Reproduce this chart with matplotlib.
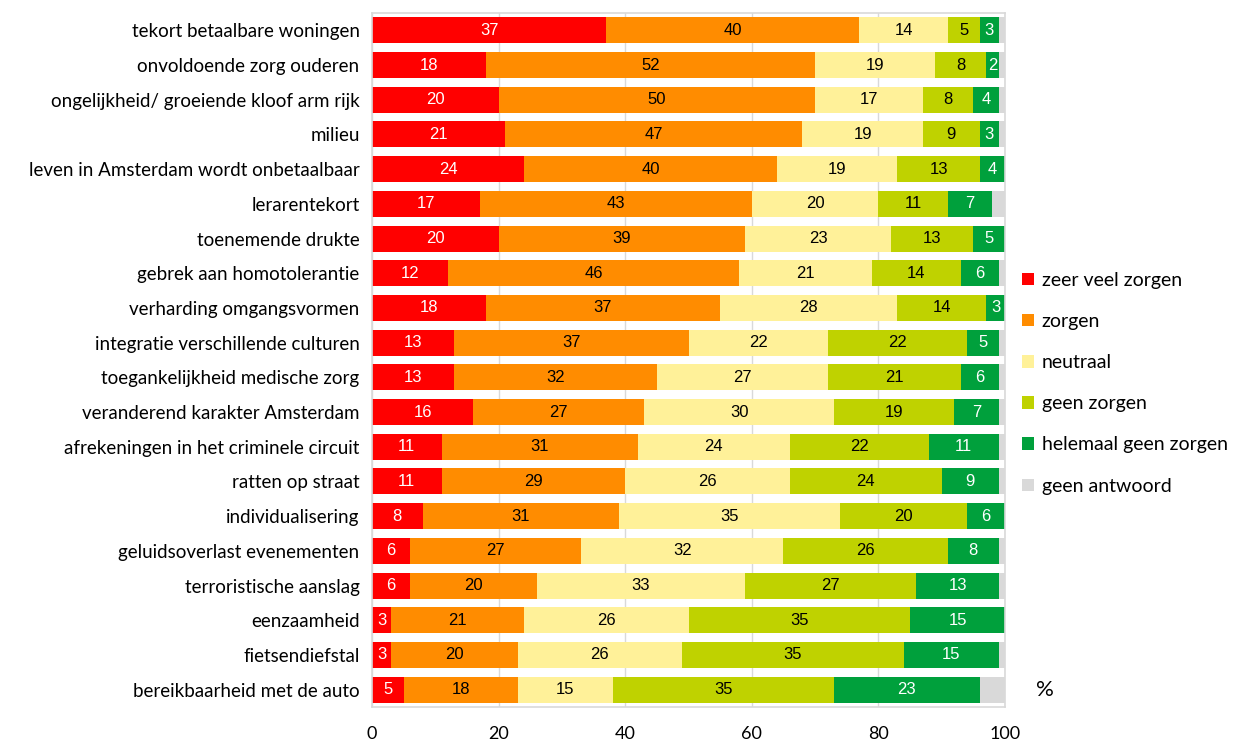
import numpy as np
import matplotlib.pyplot as plt

# Data
topics = [
    'tekort betaalbare woningen',
    'onvoldoende zorg ouderen',
    'ongelijkheid/ groeiende kloof arm rijk',
    'milieu',
    'leven in Amsterdam wordt onbetaalbaar',
    'lerarentekort',
    'toenemende drukte',
    'gebrek aan homotolerantie',
    'verharding omgangsvormen',
    'integratie verschillende culturen',
    'toegankelijkheid medische zorg',
    'veranderend karakter Amsterdam',
    'afrekeningen in het criminele circuit',
    'ratten op straat',
    'individualisering',
    'geluidsoverlast evenementen',
    'terroristische aanslag',
    'eenzaamheid',
    'fietsendiefstal',
    'bereikbaarheid met de auto',
]
zeer_veel_zorgen = [37, 18, 20, 21, 24, 17, 20, 12, 18, 13, 13, 16, 11, 11, 8, 6, 6, 3, 3, 5]
zorgen = [40, 52, 50, 47, 40, 43, 39, 46, 37, 37, 32, 27, 31, 29, 31, 27, 20, 21, 20, 18]
neutraal = [14, 19, 17, 19, 19, 20, 23, 21, 28, 22, 27, 30, 24, 26, 35, 32, 33, 26, 26, 15]
geen_zorgen = [5, 8, 8, 9, 13, 11, 13, 14, 14, 22, 21, 19, 22, 24, 20, 26, 27, 35, 35, 35]
helemaal_geen = [3, 2, 4, 3, 4, 7, 5, 6, 3, 5, 6, 7, 11, 9, 6, 8, 13, 15, 15, 23]
geen_antwoord = [1, 1, 1, 1, 0, 2, 0, 1, 0, 1, 1, 1, 1, 1, 0, 1, 1, 0, 1, 4]

series = [
    ('zeer veel zorgen', zeer_veel_zorgen, '#ff0000', 'white'),
    ('zorgen', zorgen, '#ff8c00', 'black'),
    ('neutraal', neutraal, '#fff199', 'black'),
    ('geen zorgen', geen_zorgen, '#bfd200', 'black'),
    ('helemaal geen zorgen', helemaal_geen, '#00a03c', 'white'),
    ('geen antwoord', geen_antwoord, '#d9d9d9', None),
]

fig = plt.figure(figsize=(12.51, 7.43), dpi=100)
ax = fig.add_axes([372 / 1251, 1 - 707 / 743, 633 / 1251, 694 / 743])

y = np.arange(len(topics))
left = np.zeros(len(topics))
for name, vals, color, txtcol in series:
    vals = np.array(vals)
    bars = ax.barh(y, vals, left=left, height=0.75, color=color, label=name, zorder=2)
    if txtcol is not None:
        ax.bar_label(bars, labels=[str(v) if v > 0 else '' for v in vals],
                     label_type='center', color=txtcol, fontsize=12,
                     family='Liberation Sans')
    left += vals

ax.set_xlim(0, 100)
ax.set_ylim(len(topics) - 0.5, -0.5)
ax.set_yticks(y)
ax.set_yticklabels(topics, family='Lato', fontsize=13.5)
ax.set_xticks([0, 20, 40, 60, 80, 100])
ax.set_xticklabels(['0', '20', '40', '60', '80', '100'], family='Lato', fontsize=13)
ax.tick_params(axis='both', length=0)
ax.tick_params(axis='x', pad=14)
ax.tick_params(axis='y', pad=9)
ax.xaxis.grid(True, color='#d9d9d9', linewidth=1, zorder=0)
ax.set_axisbelow(True)
for sp in ax.spines.values():
    sp.set_color('#d9d9d9')
    sp.set_linewidth(1.2)

ax.legend(loc='upper left', bbox_to_anchor=(1.015, 0.638), frameon=False,
          prop={'family': 'Lato', 'size': 14}, handlelength=0.6,
          handleheight=0.6, handletextpad=0.4, labelspacing=1.24,
          borderaxespad=0)

fig.text(1045 / 1251, 1 - 690 / 743, '%', family='Lato', fontsize=16,
         ha='center', va='center')

plt.savefig('out.png')
